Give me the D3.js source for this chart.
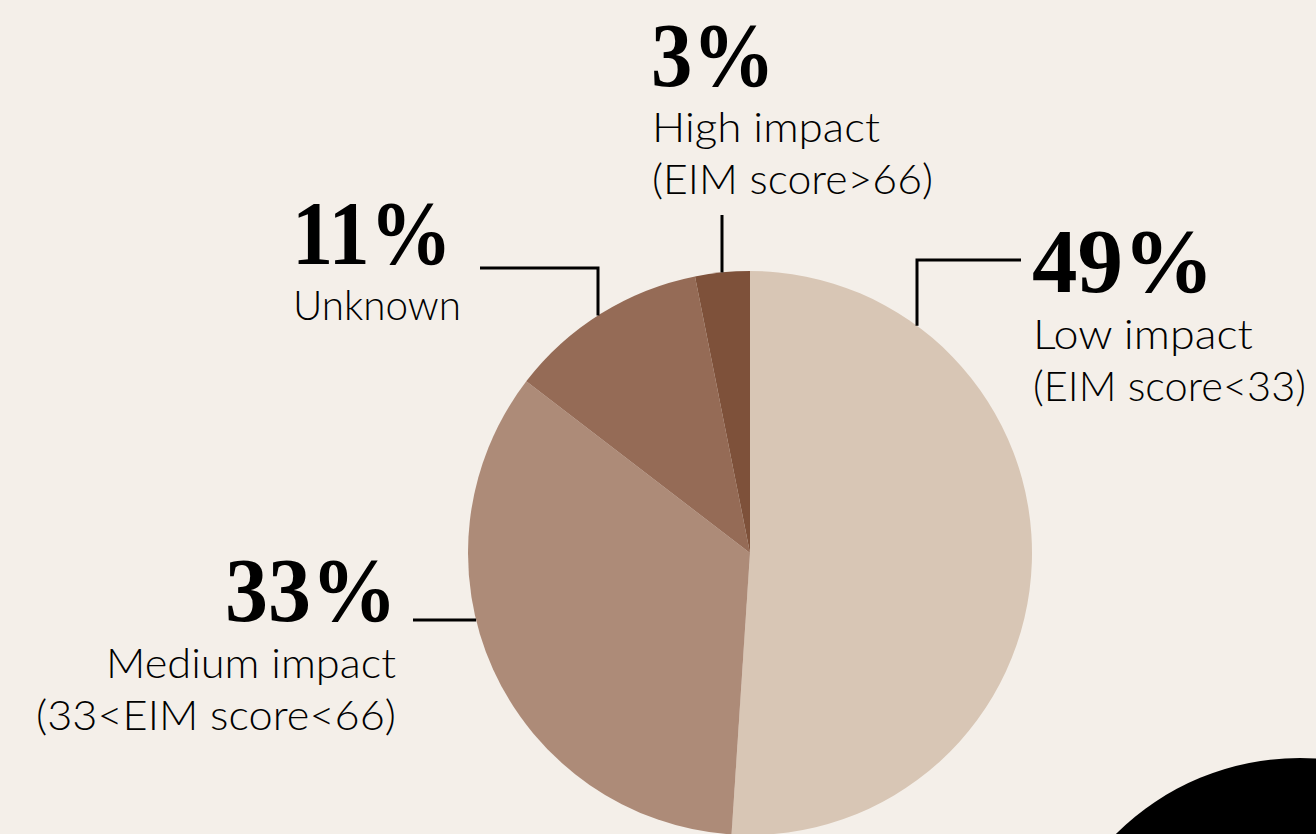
<!DOCTYPE html>
<html>
<head>
<meta charset="utf-8">
<script src="https://cdn.jsdelivr.net/npm/d3@7"></script>
<style>
  html, body { margin: 0; padding: 0; background: #f4efe9; }
  svg { display: block; }
  .pct { font-family: "Liberation Serif", "DejaVu Serif", serif; font-weight: 700; fill: #000; }
  .sub { font-family: Lato, "Open Sans", Roboto, sans-serif; font-weight: 300; fill: #000; }
</style>
</head>
<body>
<svg id="chart" width="1316" height="834"></svg>
<script>
// Share of items by EIM impact class (pie runs clockwise from 12 o'clock)
const categories = ["Low impact", "Medium impact", "Unknown", "High impact"];
const values = [49, 33, 11, 3];
const percentLabels = ["49%", "33%", "11%", "3%"];
const subLabels = [
  ["Low impact", "(EIM score<33)"],
  ["Medium impact", "(33<EIM score<66)"],
  ["Unknown"],
  ["High impact", "(EIM score>66)"]
];
const colors = ["#d8c6b5", "#ad8b78", "#956b56", "#7e513a"];

const W = 1316, H = 834;
const cx = 750, cy = 553, R = 282;

const svg = d3.select("#chart");
svg.append("rect").attr("width", W).attr("height", H).attr("fill", "#f4efe9");

// decorative black disc in the lower-right corner
svg.append("circle").attr("cx", 1300).attr("cy", 1019).attr("r", 261).attr("fill", "#000");

const pie = d3.pie().sort(null).value(d => d)(values);
const arc = d3.arc().innerRadius(0).outerRadius(R);

const g = svg.append("g").attr("transform", `translate(${cx},${cy})`);
g.selectAll("path.slice")
  .data(pie)
  .join("path")
  .attr("class", "slice")
  .attr("d", arc)
  .attr("fill", (d, i) => colors[i]);

// label layout: leader lines leave the rim either vertically (at x) or horizontally (at y)
const layout = [
  { leader: "v", at: 917, turnY: 260, endX: 1021, tx: 1032, ty: 292, anchor: "start", pctW: 182, subX: 1033, subY: 349, subW: [220, 273] },
  { leader: "h", at: 620, endX: 413, tx: 397, ty: 621, anchor: "end", pctW: 172, subX: 396, subY: 678, subW: [290, 360] },
  { leader: "v", at: 598, turnY: 268, endX: 480, tx: 292, ty: 264, anchor: "start", pctW: 160, subX: 293, subY: 320, subW: [168] },
  { leader: "v", at: 722, topY: 215, tx: 651, ty: 86, anchor: "start", pctW: 124, subX: 652, subY: 142, subW: [228, 281] }
];

const line = d3.line();
layout.forEach((L, i) => {
  let pts;
  if (L.leader === "v") {
    const rimY = cy - Math.sqrt(R * R - (L.at - cx) ** 2);
    if (L.turnY !== undefined) pts = [[L.at, rimY], [L.at, L.turnY], [L.endX, L.turnY]];
    else pts = [[L.at, rimY], [L.at, L.topY]];
  } else {
    const rimX = cx - Math.sqrt(R * R - (L.at - cy) ** 2);
    pts = [[rimX, L.at], [L.endX, L.at]];
  }
  svg.append("path")
    .attr("d", line(pts))
    .attr("fill", "none")
    .attr("stroke", "#000")
    .attr("stroke-width", 3)
    .attr("stroke-linejoin", "miter");

  svg.append("text")
    .attr("class", "pct")
    .attr("x", L.tx).attr("y", L.ty)
    .attr("text-anchor", L.anchor)
    .attr("font-size", 90)
    .attr("textLength", L.pctW)
    .attr("lengthAdjust", "spacingAndGlyphs")
    .text(percentLabels[i]);

  subLabels[i].forEach((s, j) => {
    svg.append("text")
      .attr("class", "sub")
      .attr("x", L.subX).attr("y", L.subY + j * 52)
      .attr("text-anchor", L.anchor)
      .attr("font-size", 42)
      .attr("textLength", L.subW[j])
      .attr("lengthAdjust", "spacingAndGlyphs")
      .text(s);
  });
});
</script>
</body>
</html>
